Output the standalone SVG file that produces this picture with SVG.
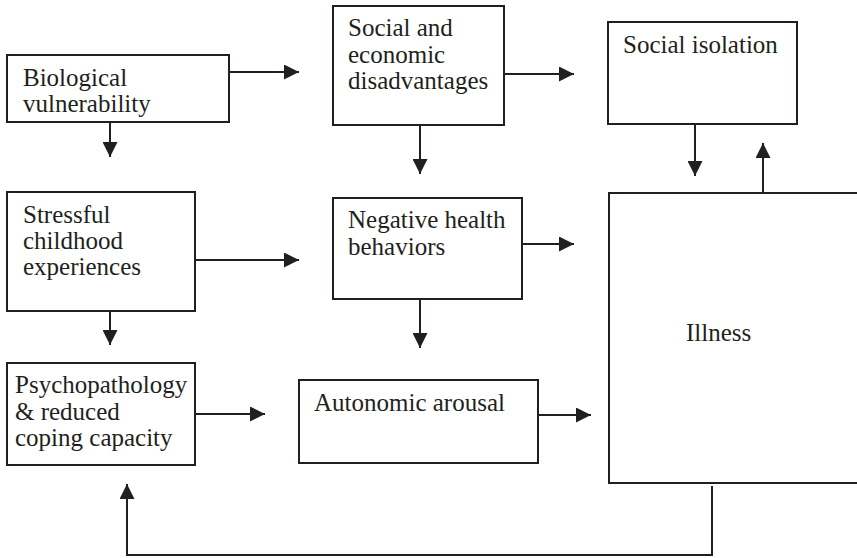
<svg xmlns="http://www.w3.org/2000/svg" width="857" height="558" viewBox="0 0 857 558">
<style>
.box{fill:#fff;stroke:#231f20;stroke-width:2}
.lbl{font-size:25px;fill:#231f20}
.con{fill:none;stroke:#231f20;stroke-width:2}
</style>
<defs>
<marker id="ah" viewBox="0 0 15 15" refX="15" refY="7.5" markerWidth="15" markerHeight="15" markerUnits="userSpaceOnUse" orient="auto">
<path d="M0,0 L15,7.5 L0,15 Z" fill="#231f20"/>
</marker>
</defs>
<rect width="857" height="558" fill="#fff"/>
<g font-family="'Liberation Serif', 'DejaVu Serif', serif">
<g id="bio"><rect class="box" x="7" y="55" width="222" height="67"/><text class="lbl" x="23" y="86">Biological</text><text class="lbl" x="23" y="112">vulnerability</text></g>
<g id="socecon"><rect class="box" x="333" y="6" width="171" height="119"/><text class="lbl" x="348" y="36">Social and</text><text class="lbl" x="348" y="63">economic</text><text class="lbl" x="348" y="89">disadvantages</text></g>
<g id="isolation"><rect class="box" x="608" y="22" width="189" height="102"/><text class="lbl" x="623" y="53">Social isolation</text></g>
<g id="stress"><rect class="box" x="7" y="192" width="188" height="119"/><text class="lbl" x="23" y="223">Stressful</text><text class="lbl" x="23" y="249">childhood</text><text class="lbl" x="23" y="275">experiences</text></g>
<g id="neg"><rect class="box" x="333" y="198" width="189" height="101"/><text class="lbl" x="348" y="228">Negative health</text><text class="lbl" x="348" y="255">behaviors</text></g>
<g id="psych"><rect class="box" x="7" y="363" width="188" height="102"/><text class="lbl" x="15" y="393">Psychopathology</text><text class="lbl" x="15" y="420">&amp; reduced</text><text class="lbl" x="15" y="446">coping capacity</text></g>
<g id="auto"><rect class="box" x="299" y="380" width="239" height="83"/><text class="lbl" x="314" y="411">Autonomic arousal</text></g>
<g id="illness"><rect class="box" x="609" y="193" width="260" height="290"/><text class="lbl" x="686" y="341">Illness</text></g>
</g>
<g id="connectors">
<line class="con" x1="229" y1="72" x2="299" y2="72" marker-end="url(#ah)"/>
<line class="con" x1="110" y1="122" x2="110" y2="157" marker-end="url(#ah)"/>
<line class="con" x1="504" y1="74" x2="574" y2="74" marker-end="url(#ah)"/>
<line class="con" x1="420" y1="125" x2="420" y2="174" marker-end="url(#ah)"/>
<line class="con" x1="695" y1="124" x2="695" y2="176" marker-end="url(#ah)"/>
<line class="con" x1="763" y1="193" x2="763" y2="143" marker-end="url(#ah)"/>
<line class="con" x1="195" y1="260" x2="299" y2="260" marker-end="url(#ah)"/>
<line class="con" x1="110" y1="311" x2="110" y2="345" marker-end="url(#ah)"/>
<line class="con" x1="522" y1="244" x2="574" y2="244" marker-end="url(#ah)"/>
<line class="con" x1="420" y1="299" x2="420" y2="348" marker-end="url(#ah)"/>
<line class="con" x1="195" y1="414" x2="265" y2="414" marker-end="url(#ah)"/>
<line class="con" x1="538" y1="415" x2="591" y2="415" marker-end="url(#ah)"/>
<polyline class="con" points="712,486 712,555 127,555 127,484" marker-end="url(#ah)"/>
</g>
</svg>
